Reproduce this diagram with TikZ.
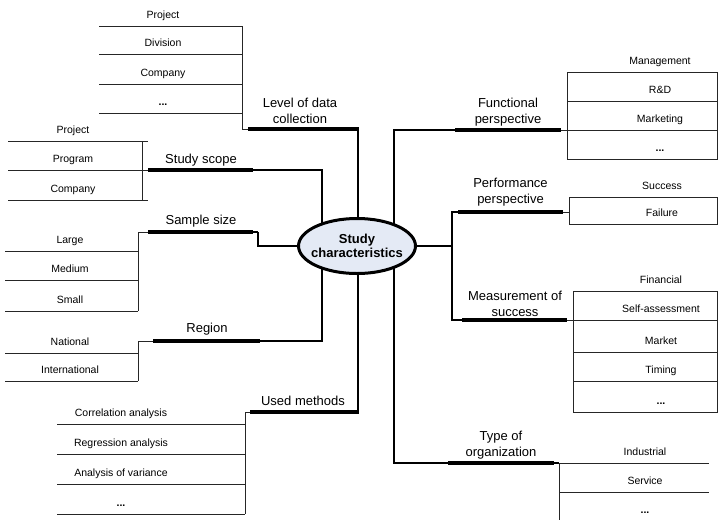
\documentclass[tikz,border=0pt]{standalone}
\usepackage{fontspec}
\setmainfont{Liberation Sans}
\usetikzlibrary{shapes.geometric,backgrounds}
\definecolor{ellfill}{HTML}{E4EAF5}
\newcommand{\mydots}{\textbf{...}}
\begin{document}
\begin{tikzpicture}[x=1pt,y=-1pt,
  thinln/.style={line width=0.8pt, draw=black!85},
  midln/.style={line width=2pt},
  thickln/.style={line width=3.2pt},
  item/.style={font=\fontsize{10.5}{12}\selectfont, anchor=base, inner sep=0pt},
  lbl/.style={font=\fontsize{13}{16}\selectfont, align=center, inner sep=0pt},
  hub/.style={ellipse, draw, line width=3pt, fill=ellfill, minimum width=117pt,
    minimum height=55pt, inner sep=0pt},
  hubtext/.style={align=center, inner sep=0pt,
    font=\bfseries\fontsize{13}{14.5}\selectfont}]
\useasboundingbox (0,0) rectangle (718,520);

\node[hub] (hub) at (357,246) {};
\node[hubtext] (hubtxt) at (hub.center) {Study\\characteristics};

% ---------- branch corner coordinates
\coordinate (lvl) at (358,129);
\coordinate (scope) at (322,170);
\coordinate (samp) at (258,232);
\coordinate (reg) at (322,341);
\coordinate (meth) at (358,412);
\coordinate (func) at (394,130);
\coordinate (perf) at (452,212);
\coordinate (meas) at (452,320);
\coordinate (typ) at (394,463);

\begin{scope}[on background layer]
\draw[midln] (lvl) -- (lvl |- hub.center);
\draw[midln] (scope) -- (scope |- hub.center);
\draw[midln] (samp) -- (samp |- hub.center) -- (hub.center);
\draw[midln] (reg) -- (reg |- hub.center);
\draw[midln] (meth) -- (meth |- hub.center);
\draw[midln] (func) -- (func |- hub.center);
\draw[midln] (perf) -- (meas);
\draw[midln] (hub.center) -- (perf |- hub.center);
\draw[midln] (typ) -- (typ |- hub.center);
\end{scope}

% ---------- Level of data collection
\draw[thickln] (248,129) -- (359,129);
\draw[thinln] (242,129) -- (248,129);
\draw[thinln] (242,129) -- (242,26);
\foreach \y in {26,54,84,113} \draw[thinln] (99,\y) -- (242,\y);
\node[lbl] (lvllbl) at (300,110.5) {Level of data\\collection};
\foreach \t/\y [count=\i] in {Project/26,Division/54,Company/84,\mydots/113}
  \node[item] (lvli\i) at (163,\y-8) {\t};

% ---------- Study scope
\draw[midln] (253,170) -- (scope) -- ++(0,-1);
\draw[thickln] (148,170) -- (253,170);
\draw[thinln] (142,141) -- (142,200);
\foreach \y in {141,170,200} \draw[thinln] (8,\y) -- (148,\y);
\node[lbl] (scopelbl) at (201,160) {Study scope};
\foreach \t/\y [count=\i] in {Project/141,Program/170,Company/200}
  \node[item] (scopei\i) at (73,\y-7.5) {\t};

% ---------- Sample size
\draw[midln] (253,232) -- (samp);
\draw[thickln] (148,232) -- (253,232);
\draw[thinln] (138,232) -- (148,232);
\draw[thinln] (138,232) -- (138,311);
\foreach \y in {251,280,311} \draw[thinln] (5,\y) -- (138,\y);
\node[lbl] (samplbl) at (201,221) {Sample size};
\foreach \t/\y [count=\i] in {Large/251,Medium/280,Small/311}
  \node[item] (sampi\i) at (70,\y-7.5) {\t};

% ---------- Region
\draw[midln] (260,341) -- (reg) -- ++(0,1);
\draw[thickln] (153,341) -- (260,341);
\draw[thinln] (138,341) -- (153,341);
\draw[thinln] (138,341) -- (138,381);
\foreach \y in {353,381} \draw[thinln] (5,\y) -- (138,\y);
\node[lbl] (reglbl) at (207,329) {Region};
\foreach \t/\y [count=\i] in {National/353,International/381}
  \node[item] (regi\i) at (70,\y-7.5) {\t};

% ---------- Used methods
\draw[thickln] (250,412) -- (359,412);
\draw[thinln] (245,412) -- (250,412);
\draw[thinln] (245,412) -- (245,514);
\foreach \y in {424,454,484,514} \draw[thinln] (57,\y) -- (245,\y);
\node[lbl] (methlbl) at (303,401) {Used methods};
\foreach \t/\y [count=\i] in {Correlation analysis/424,Regression analysis/454,Analysis of variance/484,\mydots/514}
  \node[item] (methi\i) at (121,\y-7.5) {\t};

% ---------- Functional perspective
\draw[midln] (393,130) -- (455,130);
\draw[thickln] (455,130) -- (561,130);
\draw[thinln] (561,130) -- (567,130);
\draw[thinln] (567,72) rectangle (717,159);
\foreach \y in {101,130} \draw[thinln] (567,\y) -- (717,\y);
\node[lbl] (funclbl) at (508,112.5) {Functional\\perspective};
\foreach \t/\y [count=\i] in {Management/72,R\&D/101,Marketing/130,\mydots/159}
  \node[item] (funci\i) at (660,\y-7.5) {\t};

% ---------- Performance perspective
\draw[midln] (451,212) -- (458,212);
\draw[thickln] (458,212) -- (563,212);
\draw[thinln] (563,212) -- (569,212);
\draw[thinln] (569,197) rectangle (717,224);
\node[lbl] (perflbl) at (510.5,192.5) {Performance\\perspective};
\foreach \t/\y [count=\i] in {Success/197,Failure/224}
  \node[item] (perfi\i) at (662,\y-7.5) {\t};

% ---------- Measurement of success
\draw[midln] (451,320) -- (462,320);
\draw[thickln] (462,320) -- (567,320);
\draw[thinln] (567,320) -- (573,320);
\draw[thinln] (573,291) rectangle (717,412);
\foreach \y in {320,352,381} \draw[thinln] (573,\y) -- (717,\y);
\node[lbl] (measlbl) at (515,303.5) {Measurement of\\success};
\foreach \t/\y [count=\i] in {Financial/291,Self-assessment/320,Market/352,Timing/381,\mydots/412}
  \node[item] (measi\i) at (661,\y-7.5) {\t};

% ---------- Type of organization
\draw[midln] (393,463) -- (448,463);
\draw[thickln] (448,463) -- (554,463);
\draw[midln] (554,463) -- (559,463);
\draw[thinln] (559,463) -- (709,463);
\draw[thinln] (559,463) -- (559,520);
\draw[thinln] (559,492) -- (709,492);
\node[lbl] (typlbl) at (501,445) {Type of\\organization};
\foreach \t/\y [count=\i] in {Industrial/463,Service/492,\mydots/521}
  \node[item] (typi\i) at (645,\y-7.5) {\t};
\end{tikzpicture}
\end{document}
